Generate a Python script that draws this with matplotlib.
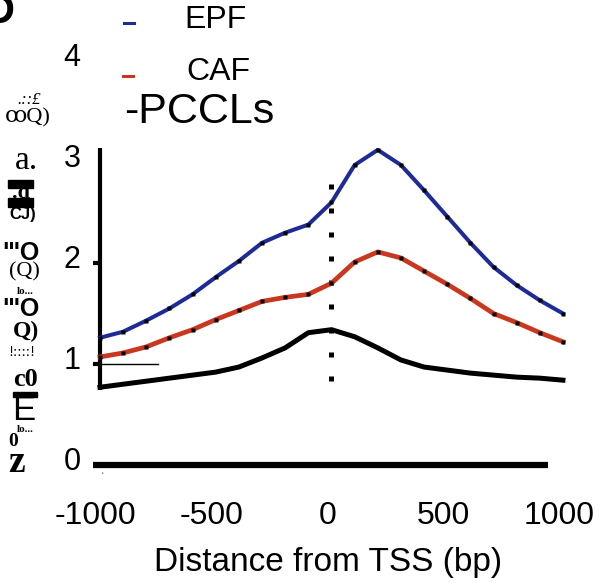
import numpy as np
import matplotlib.pyplot as plt
from matplotlib.lines import Line2D
from matplotlib.patches import Rectangle

# distance from TSS (bp)
distance = np.arange(-1000, 1001, 100)
epf = [1.26, 1.32, 1.43, 1.55, 1.69, 1.86, 2.02, 2.20, 2.30, 2.38, 2.60,
       2.97, 3.12, 2.97, 2.72, 2.46, 2.20, 1.96, 1.78, 1.63, 1.50]
caf = [1.07, 1.11, 1.17, 1.26, 1.34, 1.44, 1.53, 1.62, 1.66, 1.69, 1.80,
       2.01, 2.11, 2.05, 1.92, 1.79, 1.65, 1.50, 1.41, 1.31, 1.22]
pccl = [0.77, 0.80, 0.83, 0.86, 0.89, 0.92, 0.97, 1.06, 1.16, 1.31, 1.34,
        1.27, 1.16, 1.04, 0.97, 0.94, 0.91, 0.89, 0.87, 0.86, 0.84]
xticks = [-1000, -500, 0, 500, 1000]
yticks = [0, 1, 2, 3, 4]
legend_labels = ["EPF", "CAF", "-PCCLs"]

W, H = 600, 584
fig = plt.figure(figsize=(W / 100, H / 100), dpi=100)
plt.rcParams['font.family'] = ['Liberation Sans', 'DejaVu Sans']
ax = fig.add_axes([0, 0, 1, 1])
ax.set_xlim(-1432, 1160)
ax.set_ylim(-1.178, 4.604)
ax.axis("off")


def fxy(px, py):
    # pixel position -> figure fraction
    return px / W, 1 - py / H


# frame pieces
ax.plot([-1000, -1000], [0.74, 3.14], color="black", lw=3, solid_capstyle="butt")
ax.plot([-1030, 935], [0, 0], color="black", lw=4.5, solid_capstyle="butt")
ax.plot([-1030, -750], [1, 1], color="black", lw=1)
for v in [1, 2]:
    ax.plot([-1030, -1000], [v, v], color="black", lw=3, solid_capstyle="butt")

# TSS marker
ax.vlines(0, 0.83, 2.8, colors="black", lw=3.6, linestyles=(0, (1, 3.8)))

# profiles
ax.plot(distance, pccl, color="black", lw=3.6, zorder=3)
ax.plot(distance, caf, color="#c9371f", lw=3.4, marker="s", ms=2.2,
        mfc="black", mec="none", zorder=3)
ax.plot(distance, epf, color="#1e2a96", lw=2.9, marker="s", ms=2.2,
        mfc="black", mec="none", zorder=3)

# tick labels
for t in xticks:
    ax.text(t - 18, -0.5, str(t), ha="center", va="center", fontsize=23)
for t in yticks:
    ax.text(-1121, t + 0.03, str(t), ha="center", va="center", fontsize=22)
ax.text(-15, -0.97, "Distance from TSS (bp)", ha="center", va="center", fontsize=24)

# legend
for (px, py), c in zip([(124, 23), (123, 76)], ["#1e2a96", "#c9371f"]):
    x0, y0 = fxy(px, py)
    fig.add_artist(Line2D([x0, x0 + 10 / W], [y0, y0], color=c, lw=2.2,
                          transform=fig.transFigure))
for (px, py), lab, fs in zip([(184, 20), (186, 72), (124, 112)], legend_labels,
                             [23, 23, 31]):
    x0, y0 = fxy(px, py)
    fig.text(x0, y0, lab, ha="left", va="center", fontsize=fs)

# panel letter (cut off)
fig.text(*fxy(-16, 12), "D", ha="left", va="center", fontsize=30, weight="bold")

# garbled axis title
garbled = [
    (29, 100, ".::£", 12, "normal", "italic"),
    (28, 118, "ꝏQ)", 16, "normal", "normal"),
    (26, 161, "a.", 24, "normal", "normal"),
    (21, 193, ".d", 16, "bold", "normal"),
    (23, 214, "CJ)", 12, "bold", "normal"),
    (21, 253, "\"'O", 18, "bold", "normal"),
    (24, 272, "(Q)", 16, "normal", "normal"),
    (25, 292, "lo...", 8, "bold", "normal"),
    (21, 309, "\"'O", 18, "bold", "normal"),
    (26, 331, "Q)", 17, "bold", "normal"),
    (22, 352, "!::::!", 11, "normal", "normal"),
    (25, 380, "c0", 19, "bold", "normal"),
    (24, 410, "E", 25, "normal", "normal"),
    (25, 430, "lo...", 8, "bold", "normal"),
    (13, 442, "0", 14, "bold", "normal"),
    (17, 462, "z", 27, "bold", "normal"),
]
for px, py, s, fs, w, st in garbled:
    fam = ["Liberation Sans"] if s in ("E", "CJ)", "\"'O") else ["Liberation Serif", "DejaVu Serif"]
    fig.text(*fxy(px, py), s, ha="center", va="center", fontsize=fs,
             weight=w, style=st, family=fam)
for px, py, w, h in [(8, 180, 25, 8), (8, 198, 25, 9), (13, 392, 24, 5)]:
    fig.add_artist(Rectangle(fxy(px, py + h), w / W, h / H, color="black",
                             transform=fig.transFigure))
fig.text(*fxy(102, 476), "ʹ", ha="center", va="center", fontsize=6)

fig.savefig("out.png", dpi=100)
